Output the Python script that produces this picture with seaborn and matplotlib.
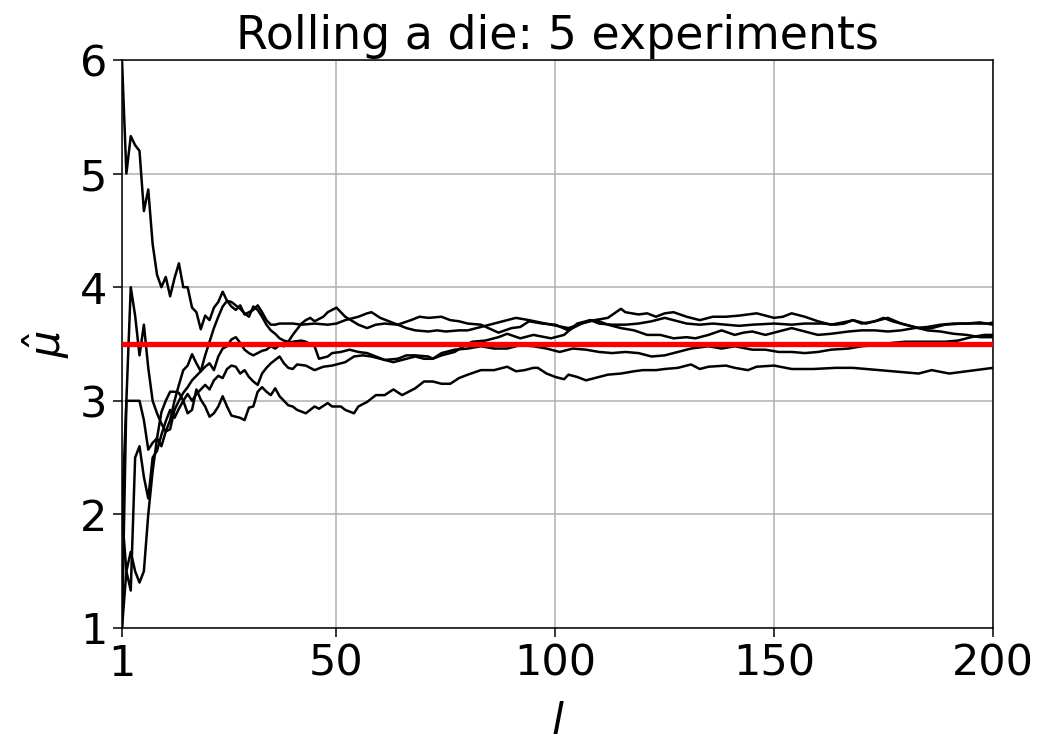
import numpy as np
import pandas as pd
import matplotlib
matplotlib.use("Agg")
import matplotlib.pyplot as plt
import seaborn as sns

# ---------------- data (running mean of die rolls) ----------------
A_x = list(range(1, 26)) + [26, 27, 28, 29, 30, 31, 32, 33, 34, 35, 36, 37, 40, 42, 45, 48, 50, 52, 55, 57, 58, 60,
                            62, 64, 67, 69, 71, 74, 76, 78, 80, 83, 87, 90, 92, 94, 97, 100, 103, 106, 108, 110, 112,
                            115, 118, 121, 124, 127, 130, 132, 135, 138, 141, 143, 145, 148, 151, 154, 157, 160, 163,
                            167, 170, 173, 176, 179, 182, 185, 188, 191, 194, 197, 200]
A_y = [6.00, 5.00, 5.33, 5.25, 5.20, 4.67, 4.86, 4.38, 4.11, 4.00, 4.09, 3.92, 4.08, 4.21, 4.00, 4.00, 3.82, 3.78,
       3.63, 3.75, 3.71, 3.82, 3.87, 3.96, 3.88,
       3.83, 3.80, 3.84, 3.76, 3.78, 3.80, 3.84, 3.78, 3.71, 3.67, 3.67, 3.68, 3.68, 3.67, 3.68, 3.67, 3.68, 3.71,
       3.74, 3.77, 3.78, 3.73, 3.70, 3.67, 3.71, 3.74, 3.73, 3.74, 3.71, 3.70, 3.68, 3.67, 3.60, 3.64, 3.65, 3.70,
       3.68, 3.67, 3.62, 3.68, 3.71, 3.70, 3.67, 3.64, 3.62, 3.58, 3.58, 3.55, 3.56, 3.55, 3.58, 3.62, 3.58, 3.60,
       3.61, 3.58, 3.61, 3.64, 3.61, 3.58, 3.59, 3.61, 3.62, 3.62, 3.61, 3.62, 3.64, 3.65, 3.67, 3.68, 3.68, 3.69,
       3.67]

B_x = list(range(1, 41)) + [42, 43, 44, 45, 47, 48, 50, 52, 55, 57, 59, 61, 64, 66, 68, 71, 73, 75, 78, 80, 83, 86,
                            88, 91, 94, 99, 103, 106, 109, 112, 115, 116, 119, 121, 123, 125, 127, 130, 133, 136, 139,
                            142, 146, 150, 152, 154, 157, 160, 163, 167, 168, 171, 174, 176, 179, 182, 185, 188, 191,
                            194, 197, 200]
B_y = [2.00, 3.00, 4.00, 3.75, 3.40, 3.67, 3.29, 3.00, 2.89, 2.80, 2.73, 2.75, 2.92, 3.00, 3.07, 3.12, 3.18, 3.22,
       3.26, 3.40, 3.52, 3.64, 3.74, 3.83, 3.88, 3.87, 3.84, 3.81, 3.77, 3.74, 3.83, 3.80, 3.74, 3.67, 3.62, 3.59,
       3.55, 3.53, 3.52, 3.58,
       3.68, 3.71, 3.73, 3.70, 3.74, 3.78, 3.82, 3.74, 3.67, 3.64, 3.67, 3.68, 3.67, 3.64, 3.62, 3.61, 3.62, 3.61,
       3.62, 3.62, 3.65, 3.68, 3.70, 3.73, 3.71, 3.67, 3.64, 3.68, 3.71, 3.73, 3.81, 3.78, 3.76, 3.77, 3.74, 3.77,
       3.78, 3.74, 3.71, 3.74, 3.74, 3.75, 3.77, 3.73, 3.74, 3.77, 3.74, 3.70, 3.67, 3.70, 3.71, 3.68, 3.71, 3.73,
       3.68, 3.65, 3.62, 3.61, 3.59, 3.58, 3.56, 3.56]

C_x = list(range(1, 41)) + [42, 43, 45, 46, 48, 49, 51, 53, 55, 57, 59, 61, 64, 66, 68, 71, 72, 74, 77, 79, 81, 84,
                            87, 89, 92, 95, 99, 102, 105, 108, 110, 113, 116, 119, 122, 125, 127, 130, 133, 136, 139,
                            142, 145, 150, 154, 157, 161, 164, 166, 168, 170, 173, 175, 177, 180, 183, 186, 189, 193,
                            196, 199, 200]
C_y = [1.00, 3.00, 3.00, 3.00, 3.00, 2.83, 2.57, 2.63, 2.67, 2.60, 2.73, 2.83, 3.00, 3.14, 3.27, 3.31, 3.41, 3.33,
       3.26, 3.30, 3.33, 3.27, 3.39, 3.46, 3.48, 3.54, 3.56, 3.51, 3.45, 3.42, 3.40, 3.42, 3.44, 3.45, 3.48, 3.46,
       3.49, 3.48, 3.51, 3.52,
       3.53, 3.52, 3.48, 3.37, 3.39, 3.42, 3.43, 3.45, 3.43, 3.42, 3.39, 3.36, 3.37, 3.40, 3.40, 3.39, 3.37, 3.40,
       3.43, 3.48, 3.52, 3.53, 3.56, 3.59, 3.55, 3.58, 3.55, 3.58, 3.68, 3.71, 3.68, 3.67, 3.67, 3.68, 3.70, 3.73,
       3.71, 3.68, 3.67, 3.68, 3.67, 3.66, 3.67, 3.68, 3.67, 3.68, 3.68, 3.67, 3.68, 3.71, 3.68, 3.70, 3.73, 3.70,
       3.67, 3.64, 3.64, 3.67, 3.68, 3.68, 3.68, 3.69]

D_x = list(range(1, 42)) + [43, 45, 47, 49, 52, 54, 56, 58, 61, 63, 65, 68, 70, 72, 74, 77, 80, 83, 86, 89, 92, 95,
                            98, 101, 104, 107, 110, 113, 116, 119, 122, 125, 128, 131, 135, 138, 141, 145, 148, 151,
                            154, 157, 160, 163, 167, 170, 173, 177, 180, 183, 186, 189, 192, 195, 198, 200]
D_y = [1.00, 1.50, 1.33, 2.50, 2.60, 2.33, 2.14, 2.50, 2.56, 2.70, 2.82, 2.92, 2.85, 2.93, 3.00, 3.06, 3.00, 3.06,
       3.10, 3.14, 3.10, 3.18, 3.22, 3.20, 3.28, 3.31, 3.30, 3.24, 3.27, 3.21, 3.17, 3.14, 3.24, 3.29, 3.33, 3.36,
       3.39, 3.33, 3.29, 3.28, 3.32,
       3.31, 3.27, 3.30, 3.31, 3.34, 3.39, 3.40, 3.39, 3.36, 3.34, 3.36, 3.39, 3.37, 3.37, 3.42, 3.45, 3.46, 3.48,
       3.46, 3.46, 3.49, 3.48, 3.46, 3.43, 3.46, 3.45, 3.43, 3.42, 3.43, 3.42, 3.39, 3.40, 3.43, 3.46, 3.48, 3.46,
       3.48, 3.45, 3.45, 3.43, 3.43, 3.42, 3.43, 3.45, 3.46, 3.48, 3.49, 3.51, 3.52, 3.52, 3.52, 3.52, 3.53, 3.56,
       3.58, 3.58]

E_x = list(range(1, 42)) + [43, 45, 46, 48, 49, 51, 52, 54, 55, 57, 59, 61, 63, 65, 68, 70, 72, 74, 76, 78, 80, 83,
                            86, 89, 91, 93, 95, 96, 98, 100, 102, 103, 105, 107, 110, 112, 115, 118, 120, 123, 125,
                            128, 131, 133, 135, 139, 141, 144, 146, 150, 154, 159, 164, 168, 174, 180, 183, 186, 190,
                            196, 200]
E_y = [2.00, 1.50, 1.67, 1.50, 1.40, 1.50, 2.00, 2.38, 2.67, 2.90, 3.00, 3.08, 3.08, 3.07, 3.00, 2.89, 2.92, 3.10,
       3.01, 2.95, 2.86, 2.89, 2.95, 3.04, 2.95, 2.87, 2.86, 2.85, 2.83, 2.94, 2.95, 3.08, 3.12, 3.08, 3.05, 3.11,
       3.04, 3.00, 2.96, 2.95, 2.92,
       2.89, 2.95, 2.93, 2.98, 2.95, 2.95, 2.92, 2.89, 2.95, 2.99, 3.05, 3.05, 3.10, 3.05, 3.11, 3.17, 3.17, 3.15,
       3.15, 3.20, 3.23, 3.27, 3.27, 3.30, 3.26, 3.27, 3.29, 3.29, 3.24, 3.21, 3.19, 3.23, 3.21, 3.18, 3.21, 3.23,
       3.24, 3.26, 3.27, 3.27, 3.28, 3.29, 3.32, 3.28, 3.30, 3.31, 3.29, 3.27, 3.30, 3.31, 3.28, 3.28, 3.29, 3.29,
       3.27, 3.25, 3.24, 3.27, 3.24, 3.27, 3.29]

true_mean = 3.5
x_ticks = [1, 50, 100, 150, 200]
y_ticks = [1, 2, 3, 4, 5, 6]
title = "Rolling a die: 5 experiments"

# ---------------- build long table ----------------
series = {"A": (A_x, A_y), "B": (B_x, B_y), "C": (C_x, C_y), "D": (D_x, D_y), "E": (E_x, E_y)}
frames = []
for name, (xs, ys) in series.items():
    frames.append(pd.DataFrame({"l": xs, "mu": ys, "experiment": name}))
df = pd.concat(frames, ignore_index=True)

# ---------------- style ----------------
sns.set_style("ticks")
plt.rcParams["font.family"] = ["DejaVu Sans"]
plt.rcParams["mathtext.fontset"] = "dejavusans"
for key in ["text.color", "axes.labelcolor", "xtick.color", "ytick.color", "axes.edgecolor"]:
    plt.rcParams[key] = "black"

fig = plt.figure(figsize=(10.45, 7.42), dpi=100)
ax = fig.add_axes([122 / 1045, 1 - 628 / 742, (993 - 122) / 1045, (628 - 60) / 742])

sns.lineplot(data=df, x="l", y="mu", units="experiment", estimator=None, color="black",
             linewidth=1.8, sort=False, ax=ax, zorder=3)
ax.axhline(true_mean, color="red", linewidth=3.8, zorder=4)

ax.set_xlim(1, 200)
ax.set_ylim(1, 6)
ax.set_xticks(x_ticks)
ax.set_yticks(y_ticks)
ax.grid(True, color="#b0b0b0", linewidth=1.1)
ax.set_axisbelow(True)
for s in ax.spines.values():
    s.set_visible(True)
    s.set_color("black")
    s.set_linewidth(1.1)
ax.tick_params(axis="both", labelsize=31, length=6.5, width=1.1, colors="black", pad=4)
ax.set_title(title, fontsize=33, pad=8, color="black")
ax.set_xlabel("$l$", fontsize=31, labelpad=12, color="black")
ax.set_ylabel(r"$\hat{\mu}$", fontsize=31, labelpad=6, color="black")

fig.savefig("out.png", dpi=100)
